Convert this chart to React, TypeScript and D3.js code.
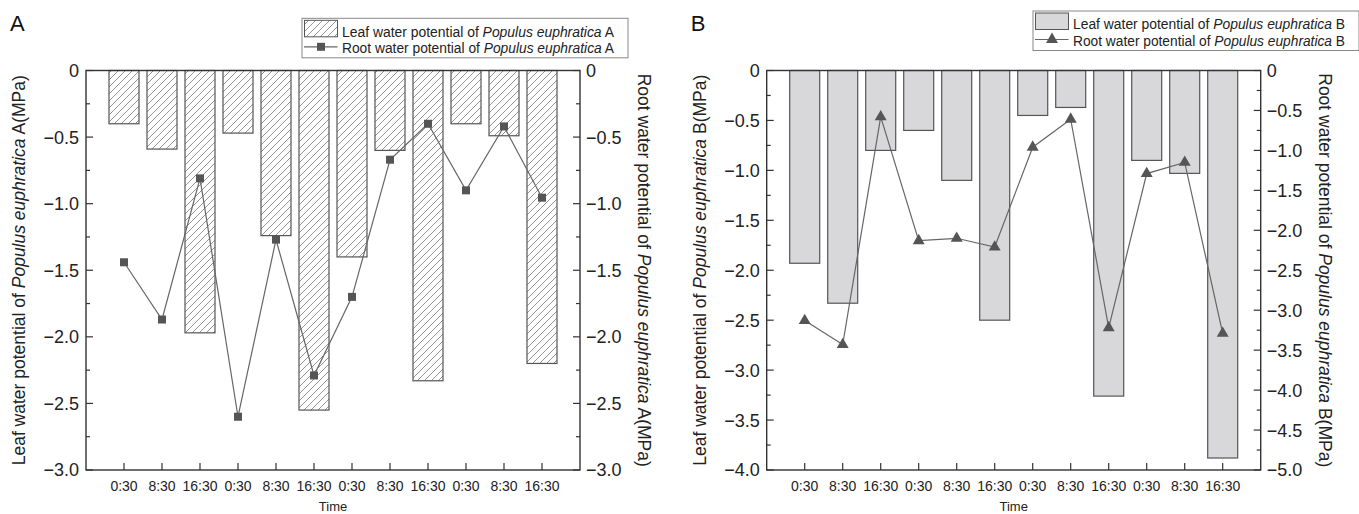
import React from 'react'
import * as d3 from 'd3'

// values (MPa)
const times = ['0:30', '8:30', '16:30', '0:30', '8:30', '16:30', '0:30', '8:30', '16:30', '0:30', '8:30', '16:30']
const leafA = [-0.40, -0.59, -1.97, -0.47, -1.24, -2.55, -1.40, -0.60, -2.33, -0.40, -0.49, -2.20]
const rootA = [-1.44, -1.87, -0.81, -2.60, -1.27, -2.29, -1.70, -0.67, -0.40, -0.90, -0.42, -0.955]
const leafB = [-1.93, -2.33, -0.80, -0.60, -1.10, -2.50, -0.45, -0.37, -3.26, -0.90, -1.03, -3.88]
const rootB = [-3.13, -3.43, -0.58, -2.13, -2.10, -2.21, -0.96, -0.61, -3.22, -1.29, -1.15, -3.29]

const FONT = 'Liberation Sans, Arial, sans-serif'
const fmt = (v: number) => (Math.abs(v) < 1e-9 ? '0' : d3.format('.1f')(v))

type PanelProps = {
  name: string
  x0: number
  leaf: number[]
  root: number[]
  leftMin: number
  rightMin: number
  hatched: boolean
  marker: 'square' | 'triangle'
  legendTop: number
  legendLeft: number
}

function Panel(p: PanelProps) {
  const top = 70.5
  const bottom = 470
  const left = p.x0
  const right = p.x0 + 494
  const x = d3.scaleLinear().domain([0, 13]).range([left, right])
  const yL = d3.scaleLinear().domain([0, p.leftMin]).range([top, bottom])
  const yR = d3.scaleLinear().domain([0, p.rightMin]).range([top, bottom])
  const barW = 30
  const idx = d3.range(1, 13)

  const lTicks = d3.range(0, p.leftMin - 0.001, -0.5)
  const lMinor = d3.range(-0.25, p.leftMin, -0.5)
  const rTicks = d3.range(0, p.rightMin - 0.001, -0.5)
  const rMinor = d3.range(-0.25, p.rightMin, -0.5)

  const line = d3.line<number>().x((_, i) => x(i + 1)).y(d => yR(d))
  const tri = d3.symbol().type(d3.symbolTriangle).size(62)()
  const fill = p.hatched ? `url(#hatch${p.name})` : '#d8d8da'
  const ax = '#333'
  const midY = (top + bottom) / 2

  const legendRow = (txt: string, y: number) => (
    <text x={p.legendLeft + 40} y={y} fontSize={14} fill="#222" textLength={272} lengthAdjust="spacingAndGlyphs">
      {txt} water potential of <tspan fontStyle="italic">Populus euphratica</tspan> {p.name}
    </text>
  )
  const lt = p.legendTop

  return (
    <g fontFamily={FONT}>
      <defs>
        <pattern id={`hatch${p.name}`} patternUnits="userSpaceOnUse" width={7} height={7}>
          <path d="M-1,1 L1,-1 M0,7 L7,0 M6,8 L8,6" stroke="#666" strokeWidth={0.7} />
        </pattern>
      </defs>
      <text x={p.x0 - 76} y={31} fontSize={22} fill="#111">{p.name}</text>

      {/* bars */}
      {p.leaf.map((v, i) => (
        <rect key={i} x={x(i + 1) - barW / 2} y={yL(0)} width={barW} height={yL(v) - yL(0)}
          fill={fill} stroke="#555" strokeWidth={1.2} />
      ))}

      {/* frame */}
      <rect x={left} y={top} width={right - left} height={bottom - top} fill="none" stroke={ax} strokeWidth={1.4} />

      {/* x ticks */}
      {idx.map((c, i) => (
        <g key={c}>
          <line x1={x(c)} x2={x(c)} y1={bottom} y2={bottom - 7} stroke={ax} strokeWidth={1.2} />
          <text x={x(c)} y={491} fontSize={14} textAnchor="middle" fill="#222">{times[i]}</text>
        </g>
      ))}
      <text x={(left + right) / 2} y={511} fontSize={13} textAnchor="middle" fill="#222">Time</text>

      {/* left axis */}
      {lTicks.map(t => (
        <g key={t}>
          <line x1={left} x2={left + 7} y1={yL(t)} y2={yL(t)} stroke={ax} strokeWidth={1.2} />
          <text x={left - 7} y={yL(t)} dy="0.36em" fontSize={18} textAnchor="end" fill="#222">{fmt(t)}</text>
        </g>
      ))}
      {lMinor.map(t => (
        <line key={t} x1={left} x2={left + 4} y1={yL(t)} y2={yL(t)} stroke={ax} strokeWidth={1.2} />
      ))}

      {/* right axis */}
      {rTicks.map(t => (
        <g key={t}>
          <line x1={right} x2={right - 7} y1={yR(t)} y2={yR(t)} stroke={ax} strokeWidth={1.2} />
          <text x={right + 6} y={yR(t)} dy="0.36em" fontSize={18} fill="#222">{fmt(t)}</text>
        </g>
      ))}
      {rMinor.map(t => (
        <line key={t} x1={right} x2={right - 4} y1={yR(t)} y2={yR(t)} stroke={ax} strokeWidth={1.2} />
      ))}

      {/* axis titles */}
      <text transform={`translate(${left - 67},${midY}) rotate(-90)`} dy="0.35em" fontSize={17.5}
        textAnchor="middle" fill="#222">
        Leaf water potential of <tspan fontStyle="italic">Populus euphratica</tspan> {p.name}(MPa)
      </text>
      <text transform={`translate(${right + 64},${midY}) rotate(90)`} dy="0.35em" fontSize={17.5}
        textAnchor="middle" fill="#222">
        Root water potential of <tspan fontStyle="italic">Populus euphratica</tspan> {p.name}(MPa)
      </text>

      {/* root line */}
      <path d={line(p.root) || ''} fill="none" stroke="#666" strokeWidth={1.2} />
      {p.root.map((v, i) =>
        p.marker === 'square' ? (
          <rect key={i} x={x(i + 1) - 4} y={yR(v) - 4} width={8} height={8} fill="#555" />
        ) : (
          <path key={i} d={tri || ''} transform={`translate(${x(i + 1)},${yR(v)})`} fill="#555" />
        )
      )}

      {/* legend */}
      <rect x={p.legendLeft} y={lt} width={326} height={39.5} fill="#fff" stroke="#888" strokeWidth={1} />
      <rect x={p.legendLeft + 2.5} y={lt + 2} width={33} height={16.5} fill={fill} stroke="#555" strokeWidth={1} />
      {legendRow('Leaf', lt + 18.3)}
      <line x1={p.legendLeft + 2} x2={p.legendLeft + 35.5} y1={lt + 28.5} y2={lt + 28.5} stroke="#666" strokeWidth={1.2} />
      {p.marker === 'square' ? (
        <rect x={p.legendLeft + 15} y={lt + 24.5} width={8} height={8} fill="#555" />
      ) : (
        <path d={tri || ''} transform={`translate(${p.legendLeft + 19},${lt + 28.5})`} fill="#555" />
      )}
      <text x={p.legendLeft + 40} y={lt + 35} fontSize={14} fill="#222" textLength={272} lengthAdjust="spacingAndGlyphs">
        Root water potential of <tspan fontStyle="italic">Populus euphratica</tspan> {p.name}
      </text>
    </g>
  )
}

export default function App() {
  return (
    <div style={{ position: 'absolute', left: 0, top: 0 }}>
      <svg width={1359} height={514} style={{ display: 'block', background: '#fff' }}>
        <Panel name="A" x0={86} leaf={leafA} root={rootA} leftMin={-3} rightMin={-3}
          hatched={true} marker="square" legendTop={18.3} legendLeft={302} />
        <Panel name="B" x0={766.7} leaf={leafB} root={rootB} leftMin={-4} rightMin={-5}
          hatched={false} marker="triangle" legendTop={11} legendLeft={1033} />
      </svg>
    </div>
  )
}
